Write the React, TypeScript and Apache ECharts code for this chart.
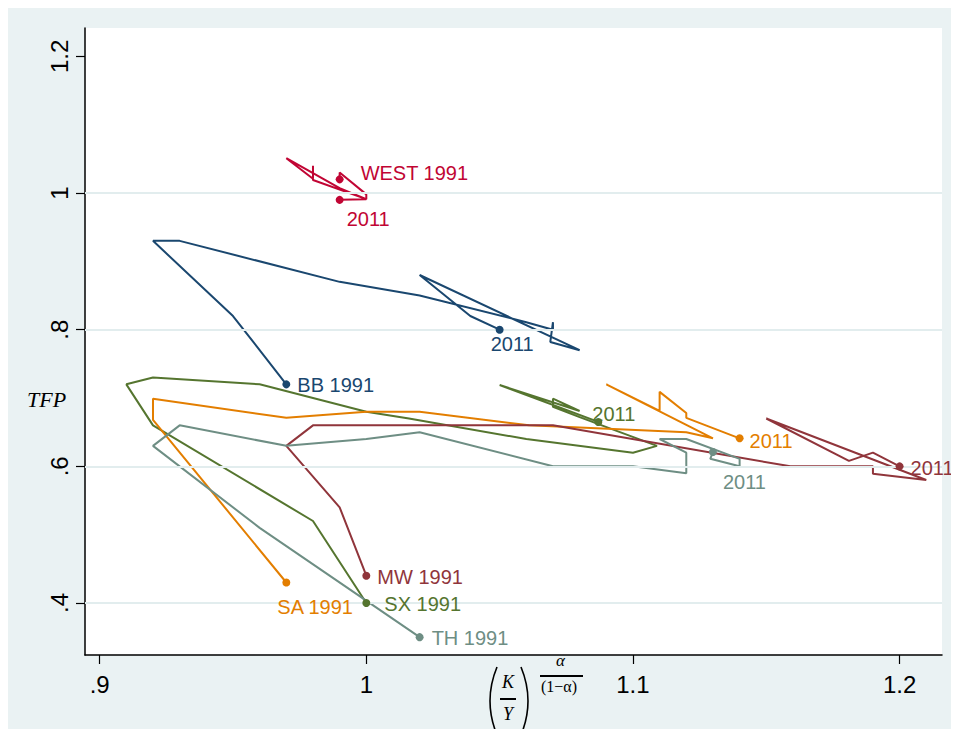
import React, { useEffect, useRef } from "react";
import * as echarts from "echarts";

// Ticks and gridlines
const X_TICKS = [0.9, 1.0, 1.1, 1.2];
const Y_TICKS = [0.4, 0.6, 0.8, 1.0, 1.2];
const Y_GRID = [0.4, 0.6, 0.8, 1.0];

// Region paths, 1991 first, 2011 last: [x = (K/Y)^(a/(1-a)), y = TFP]
const WEST = [[0.99, 1.02], [0.99, 1.03], [1.0, 0.998], [1.0, 0.991], [0.98, 1.019], [0.98, 1.04], [0.98, 1.021], [0.97, 1.051], [0.99, 1.007], [1.0, 0.991], [0.99, 0.99]];
const BB = [[0.97, 0.72], [0.95, 0.82], [0.92, 0.93], [0.93, 0.93], [0.99, 0.87], [1.02, 0.85], [1.06, 0.811], [1.07, 0.8], [1.07, 0.811], [1.069, 0.782], [1.08, 0.77], [1.02, 0.88], [1.039, 0.82], [1.05, 0.8]];
const SX = [[1.0, 0.4], [0.98, 0.52], [0.92, 0.66], [0.91, 0.72], [0.92, 0.73], [0.96, 0.72], [1.0, 0.68], [1.016, 0.67], [1.06, 0.64], [1.1, 0.62], [1.109, 0.63], [1.08, 0.672], [1.07, 0.687], [1.07, 0.699], [1.08, 0.681], [1.05, 0.719], [1.087, 0.665]];
const SA = [[0.97, 0.43], [0.92, 0.668], [0.92, 0.699], [0.97, 0.671], [1.0, 0.68], [1.02, 0.68], [1.061, 0.66], [1.12, 0.65], [1.13, 0.641], [1.09, 0.72], [1.11, 0.681], [1.11, 0.709], [1.12, 0.678], [1.12, 0.671], [1.14, 0.641]];
const MW = [[1.0, 0.44], [0.99, 0.54], [0.97, 0.63], [0.98, 0.66], [1.07, 0.66], [1.159, 0.6], [1.19, 0.6], [1.19, 0.589], [1.21, 0.58], [1.15, 0.67], [1.181, 0.608], [1.19, 0.62], [1.2, 0.6]];
const TH = [[1.02, 0.35], [0.96, 0.51], [0.92, 0.63], [0.93, 0.66], [0.97, 0.63], [1.0, 0.64], [1.02, 0.65], [1.07, 0.6], [1.1, 0.6], [1.12, 0.59], [1.12, 0.62], [1.11, 0.64], [1.12, 0.64], [1.14, 0.611], [1.14, 0.6], [1.129, 0.611], [1.13, 0.621]];

const REGIONS = [
  { name: "WEST", data: WEST, color: "#C10534", startOff: [17, -6], endOff: [3, 19] },
  { name: "BB", data: BB, color: "#1A476F", startOff: [7, 1], endOff: [-13, 14] },
  { name: "SX", data: SX, color: "#55752F", startOff: [14, 1], endOff: [-10, -8] },
  { name: "SA", data: SA, color: "#E37E00", startOff: [-13, 24], endOff: [6, 3] },
  { name: "MW", data: MW, color: "#90353B", startOff: [7, 1], endOff: [7, 2] },
  { name: "TH", data: TH, color: "#6E8E84", startOff: [8, 1], endOff: [6, 30] },
];

const X_MIN = 0.8945;
const X_MAX = 1.2159;
const Y_MIN = 0.3239;
const Y_MAX = 1.2415;

const fmt = (v: number) => {
  const s = String(Math.round(v * 100) / 100);
  return s.startsWith("0.") ? s.slice(1) : s;
};

export default function App() {
  const ref = useRef<HTMLDivElement>(null);
  useEffect(() => {
    if (!ref.current) return;
    const chart = echarts.init(ref.current, undefined, { renderer: "svg" });
    const labelFont = { fontFamily: "Liberation Sans, Arial, sans-serif", fontSize: 20 };
    const series: any[] = [
      {
        type: "line",
        data: [],
        silent: true,
        z: 1,
        markLine: {
          silent: true,
          symbol: "none",
          label: { show: false },
          lineStyle: { color: "#E2EDEE", width: 2, type: "solid" },
          data: Y_GRID.map((y) => ({ yAxis: y })),
        },
      },
    ];
    REGIONS.forEach((r) => {
      series.push({
        type: "line",
        name: r.name,
        z: 3,
        showSymbol: false,
        symbol: "none",
        lineStyle: { color: r.color, width: 2 },
        itemStyle: { color: r.color },
        data: r.data,
      });
    });
    REGIONS.forEach((r) => {
      const n = r.data.length;
      const mk = (p: number[], start: boolean) => ({
        value: p,
        label: {
          show: true,
          position: "right",
          distance: 0,
          offset: start ? r.startOff : r.endOff,
          formatter: start ? `${r.name} 1991` : "2011",
          color: r.color,
          ...labelFont,
        },
      });
      series.push({
        type: "scatter",
        name: r.name + " ends",
        z: 6,
        symbol: "circle",
        symbolSize: 8,
        itemStyle: { color: r.color, opacity: 1 },
        data: [mk(r.data[0], true), mk(r.data[n - 1], false)],
      });
    });

    const serif = "'Liberation Serif', 'Times New Roman', serif";
    chart.setOption({
      animation: false,
      backgroundColor: "#EAF2F3",
      grid: { left: 77, right: 17, top: 20, bottom: 74, show: true, backgroundColor: "#FFFFFF", borderWidth: 0 },
      xAxis: {
        type: "value",
        min: X_MIN,
        max: X_MAX,
        axisLine: { show: true, onZero: false, lineStyle: { color: "#000", width: 1.5 } },
        axisTick: { show: true, customValues: X_TICKS, length: 9, lineStyle: { color: "#000", width: 1.2 } },
        axisLabel: { customValues: X_TICKS, formatter: fmt, fontSize: 24, color: "#000", margin: 17, fontFamily: "Liberation Sans, Arial, sans-serif" },
        splitLine: { show: false },
      },
      yAxis: {
        type: "value",
        min: Y_MIN,
        max: Y_MAX,
        axisLine: { show: true, onZero: false, lineStyle: { color: "#000", width: 1.5 } },
        axisTick: { show: true, customValues: Y_TICKS, length: 9, lineStyle: { color: "#000", width: 1.2 } },
        axisLabel: { customValues: Y_TICKS, formatter: fmt, fontSize: 24, color: "#000", margin: 14, rotate: 90, fontFamily: "Liberation Sans, Arial, sans-serif" },
        splitLine: { show: false },
      },
      graphic: [
        { type: "text", x: 19, y: 380, style: { text: "TFP", font: `italic 22px ${serif}`, fill: "#000" } },
        { type: "bezierCurve", shape: { x1: 489, y1: 659, cpx1: 475, cpy1: 693, x2: 489, y2: 727 }, style: { stroke: "#000", lineWidth: 1.6, fill: "none" } },
        { type: "text", x: 494, y: 665, style: { text: "K", font: `italic 18px ${serif}`, fill: "#000" } },
        { type: "line", shape: { x1: 492, y1: 691, x2: 508, y2: 691 }, style: { stroke: "#000", lineWidth: 2 } },
        { type: "text", x: 495, y: 697, style: { text: "Y", font: `italic 18px ${serif}`, fill: "#000" } },
        { type: "bezierCurve", shape: { x1: 513, y1: 659, cpx1: 527, cpy1: 693, x2: 513, y2: 727 }, style: { stroke: "#000", lineWidth: 1.6, fill: "none" } },
        { type: "text", x: 548, y: 644, style: { text: "α", font: `italic 17px ${serif}`, fill: "#000" } },
        { type: "line", shape: { x1: 532, y1: 668, x2: 575, y2: 668 }, style: { stroke: "#000", lineWidth: 2 } },
        { type: "text", x: 533, y: 670, style: { text: "(1−α)", font: `16px ${serif}`, fill: "#000" } },
      ],
      series,
    });
    return () => chart.dispose();
  }, []);
  return <div ref={ref} style={{ width: 951, height: 721 }} />;
}
